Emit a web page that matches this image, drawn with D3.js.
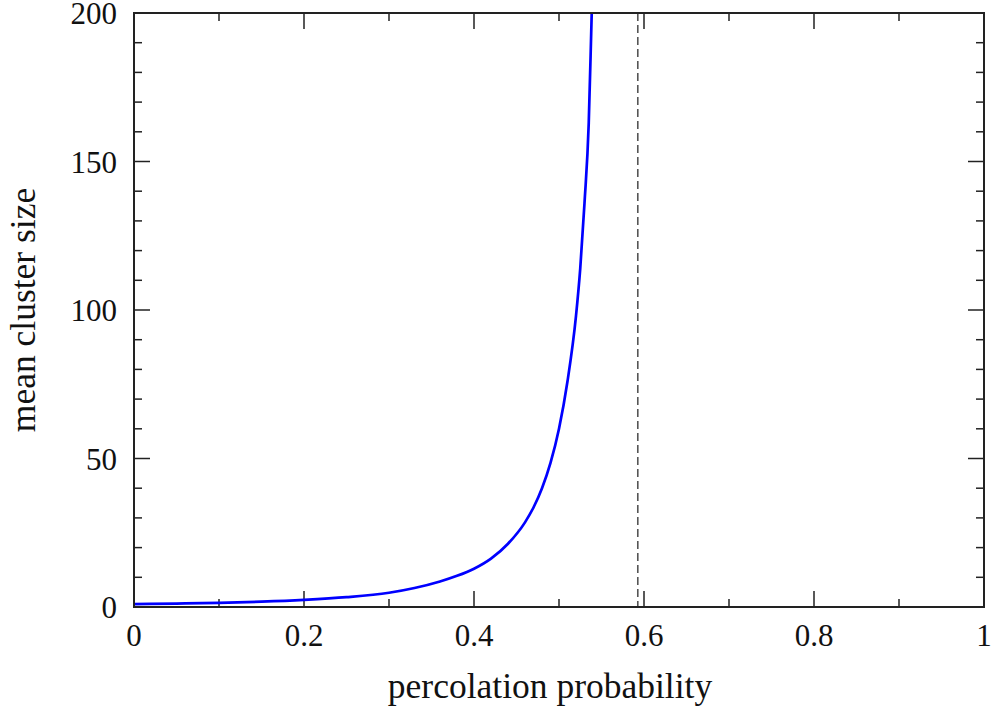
<!DOCTYPE html>
<html><head><meta charset="utf-8">
<script src="https://cdn.jsdelivr.net/npm/d3@7"></script>
<style>body{margin:0;background:#fff}svg{display:block}</style>
</head><body>
<svg id="c" width="992" height="728"></svg>
<script>
const probability = [0, 0.05, 0.1, 0.15, 0.2, 0.25, 0.3, 0.33, 0.36, 0.38, 0.40, 0.42, 0.44, 0.46, 0.47, 0.48, 0.49, 0.50, 0.51, 0.52, 0.525, 0.53, 0.535, 0.5385, 0.541];
const meanClusterSize = [1.0, 1.15, 1.4, 1.8, 2.4, 3.3, 4.8, 6.4, 8.6, 10.5, 12.9, 16.3, 21.3, 28.5, 33.5, 40, 48.5, 60, 76, 98, 114, 136, 163, 200, 225];
const criticalP = 0.5927;
const xTicks = [0, 0.2, 0.4, 0.6, 0.8, 1];
const xMinor = [0.1, 0.3, 0.5, 0.7, 0.9];
const yTicks = [0, 50, 100, 150, 200];
const yMinor = [10,20,30,40,60,70,80,90,110,120,130,140,160,170,180,190];
const xTitle = "percolation probability";
const yTitle = "mean cluster size";

const svg = d3.select("#c");
const L = 134, R = 984, T = 13, B = 607;
const x = d3.scaleLinear().domain([0, 1]).range([L, R]);
const y = d3.scaleLinear().domain([0, 200]).range([B, T]);
const font = "'Liberation Serif','Times New Roman',serif";
const axisCol = "#222";

svg.append("defs").append("clipPath").attr("id","clip")
  .append("rect").attr("x",L).attr("y",T).attr("width",R-L).attr("height",B-T);

function ticks(g, vals, len) {
  vals.forEach(v => {
    g.append("line").attr("x1",x(v)).attr("x2",x(v)).attr("y1",B).attr("y2",B-len);
    g.append("line").attr("x1",x(v)).attr("x2",x(v)).attr("y1",T).attr("y2",T+len);
  });
}
function yticks(g, vals, len) {
  vals.forEach(v => {
    g.append("line").attr("y1",y(v)).attr("y2",y(v)).attr("x1",L).attr("x2",L+len);
    g.append("line").attr("y1",y(v)).attr("y2",y(v)).attr("x1",R).attr("x2",R-len);
  });
}
const tg = svg.append("g").attr("stroke",axisCol).attr("stroke-width",1.5);
ticks(tg, xTicks, 16); ticks(tg, xMinor, 8);
yticks(tg, yTicks, 16); yticks(tg, yMinor, 8);

svg.append("line").attr("x1",x(criticalP)).attr("x2",x(criticalP))
  .attr("y1",T).attr("y2",B).attr("stroke","#555").attr("stroke-width",1.6)
  .attr("stroke-dasharray","8,4");

const data = probability.map((p,i)=>[p, meanClusterSize[i]]);
svg.append("path").datum(data).attr("clip-path","url(#clip)")
  .attr("fill","none").attr("stroke","#0000ff").attr("stroke-width",2.7)
  .attr("stroke-linejoin","round")
  .attr("d", d3.line().x(d=>x(d[0])).y(d=>y(d[1])).curve(d3.curveMonotoneX));

svg.append("rect").attr("x",L).attr("y",T).attr("width",R-L).attr("height",B-T)
  .attr("fill","none").attr("stroke",axisCol).attr("stroke-width",2);

svg.append("g").selectAll("text").data(xTicks).join("text")
  .attr("x",d=>x(d)).attr("y",646).attr("text-anchor","middle")
  .attr("font-family",font).attr("font-size",31).attr("fill","#111")
  .text(d=>d3.format("")(d));
svg.append("g").selectAll("text").data(yTicks).join("text")
  .attr("x",117).attr("y",d=>y(d)+11).attr("text-anchor","end")
  .attr("font-family",font).attr("font-size",31).attr("fill","#111")
  .text(d=>d);

svg.append("text").attr("x",550).attr("y",698).attr("text-anchor","middle")
  .attr("font-family",font).attr("font-size",35.5).attr("fill","#111").text(xTitle);
svg.append("text").attr("transform","translate(35,310) rotate(-90)").attr("text-anchor","middle")
  .attr("font-family",font).attr("font-size",35.5).attr("fill","#111").text(yTitle);
</script>
</body></html>
